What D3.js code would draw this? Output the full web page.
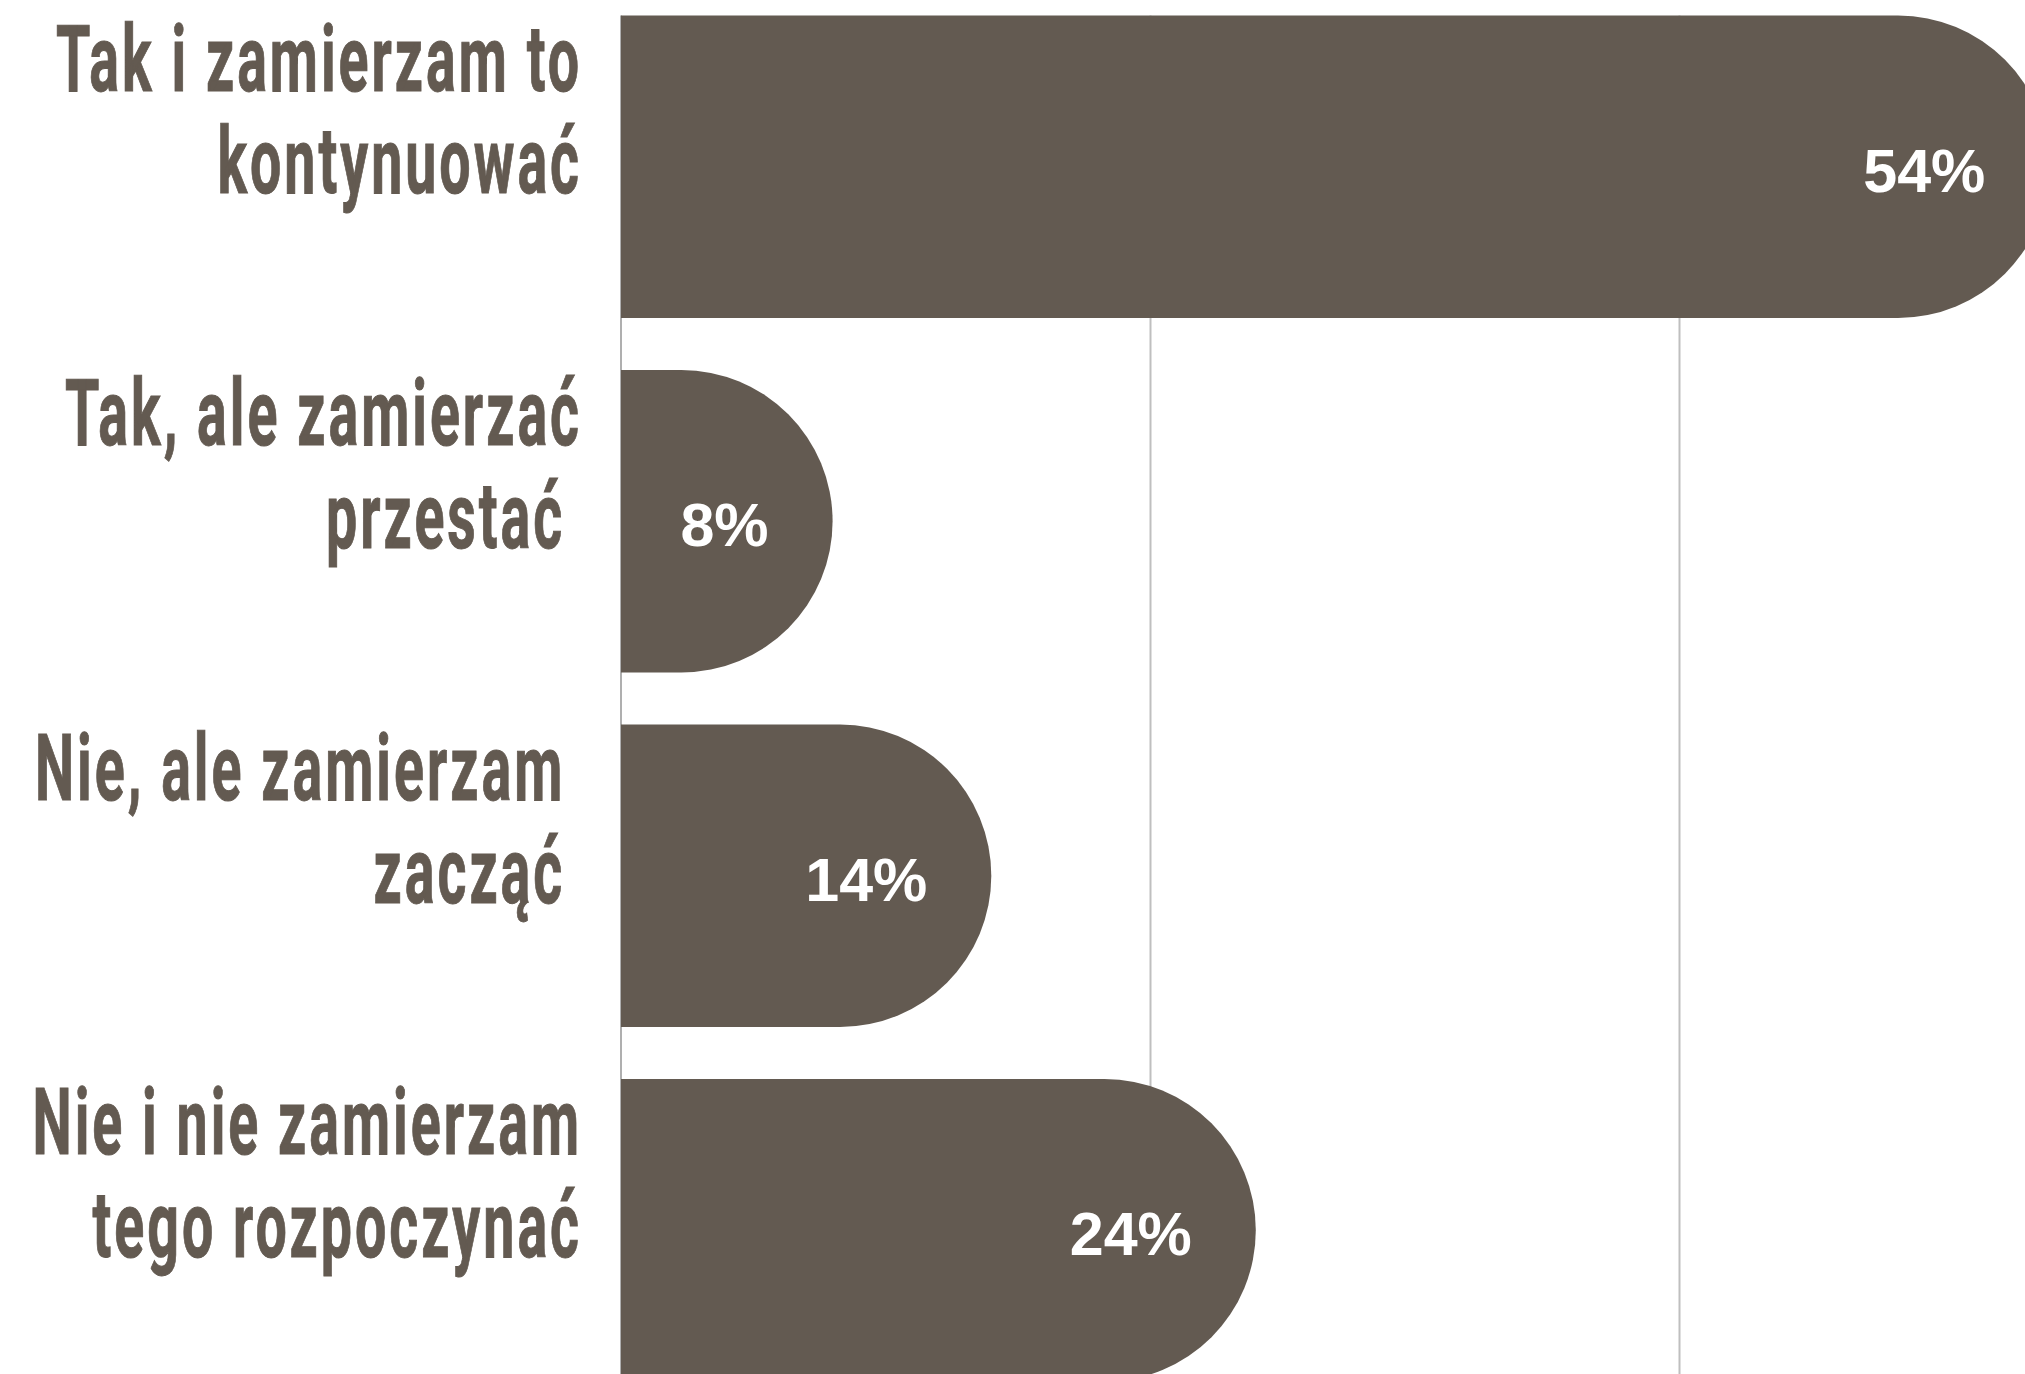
<!DOCTYPE html>
<html lang="pl">
  <head>
    <meta charset="UTF-8" />
    <title>Bar chart</title>
    <script src="https://cdnjs.cloudflare.com/ajax/libs/d3/7.9.0/d3.min.js"></script>
    <style>
      html,
      body {
        margin: 0;
        padding: 0;
        background: #ffffff;
        overflow: hidden;
      }
      svg {
        display: block;
      }
      .cat-label {
        font-family: Roboto, "DejaVu Sans", sans-serif;
        font-weight: 700;
        fill: #635a51;
        stroke: #635a51;
        stroke-width: 1px;
        letter-spacing: 5px;
        white-space: pre;
      }
      .val-label {
        font-family: "Liberation Sans", Arial, sans-serif;
        font-weight: 700;
        fill: #ffffff;
      }
      .grid line {
        stroke: #bfbfbf;
        stroke-width: 2px;
      }
    </style>
  </head>
  <body>
    <svg id="chart" width="2025" height="1374"></svg>

    <script>
      /* ---------- data ---------- */
      const categories = ["tak-kont", "tak-przestac", "nie-zaczac", "nie-nie"];
      const labelLines = [
        ["Tak i zamierzam to", "kontynuować"],
        ["Tak, ale zamierzać", "przestać "],
        ["Nie, ale zamierzam ", "zacząć "],
        ["Nie i nie zamierzam", "tego rozpoczynać"],
      ];
      const values = [54, 8, 14, 24];
      const gridTicks = [20, 40, 60];

      /* ---------- layout ---------- */
      const plotLeft = 621,
        plotTop = 15.5,
        plotBottom = 1381.5;
      const barColor = "#635a51";

      const svg = d3.select("#chart");

      const x = d3
        .scaleLinear()
        .domain([0, 60])
        .range([plotLeft, plotLeft + 60 * 26.45]);

      const y = d3
        .scaleBand()
        .domain(categories)
        .range([plotTop, plotBottom])
        .paddingInner(0.147)
        .paddingOuter(0);

      /* ---------- grid ---------- */
      const grid = svg
        .append("g")
        .attr("class", "grid")
        .attr("transform", `translate(0, ${plotBottom})`)
        .call(
          d3
            .axisBottom(x)
            .tickValues(gridTicks)
            .tickSize(-(plotBottom - plotTop))
            .tickFormat("")
        );
      grid.select(".domain").remove();

      // vertical axis line at 0
      svg
        .append("line")
        .attr("x1", x(0))
        .attr("x2", x(0))
        .attr("y1", plotTop)
        .attr("y2", plotBottom)
        .attr("stroke", "#7a7a7a")
        .attr("stroke-width", 1.2);

      /* ---------- bars (flat start, round end) ---------- */
      function barPath(x0, x1, y0, h) {
        const r = h / 2;
        const xf = Math.max(x0, x1 - r);
        return `M${x0},${y0}H${xf}A${r},${r} 0 0 1 ${xf},${y0 + h}H${x0}Z`;
      }

      svg
        .append("g")
        .selectAll("path")
        .data(categories)
        .join("path")
        .attr("fill", barColor)
        .attr("d", (c, i) => barPath(x(0), x(values[i]), y(c), y.bandwidth()));

      /* ---------- value labels ---------- */
      svg
        .append("g")
        .selectAll("text")
        .data(categories)
        .join("text")
        .attr("class", "val-label")
        .attr("font-size", 61)
        .attr("text-anchor", "end")
        .attr("x", (c, i) => x(values[i]) - 64)
        .attr("y", (c) => y(c) + y.bandwidth() / 2 + 25)
        .text((c, i) => values[i] + "%");

      /* ---------- category labels (condensed) ---------- */
      const labelRight = 582;
      const catG = svg.append("g");

      const rows = catG
        .selectAll("g")
        .data(categories)
        .join("g")
        .attr("transform", (c) => `translate(${labelRight}, ${y(c)})`);

      const inner = rows.append("g").attr("class", "squeeze");

      inner
        .selectAll("text")
        .data((c, i) => labelLines[i].map((t, j) => ({ t, j })))
        .join("text")
        .attr("class", "cat-label")
        .attr("font-size", 93)
        .attr("text-anchor", "end")
        .attr("x", 0)
        .attr("y", (d) => (d.j === 0 ? 75 : 178))
        .text((d) => d.t);

      // squeeze horizontally so the first line spans the reference width
      const ref = inner.filter((c, i) => i === 0).select("text").node();
      const k = 526 / ref.getComputedTextLength();
      inner.attr("transform", `scale(${k}, 1)`);
    </script>
  </body>
</html>
